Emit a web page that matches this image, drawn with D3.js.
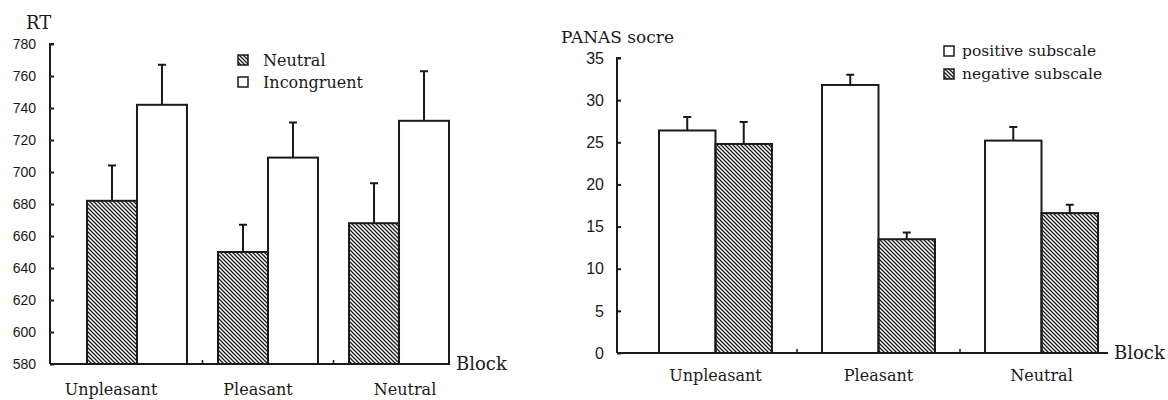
<!DOCTYPE html>
<html>
<head>
<meta charset="utf-8">
<script src="https://cdn.jsdelivr.net/npm/d3@7"></script>
<style>
  html, body { margin: 0; padding: 0; background: #fff; }
  svg { display: block; }
  .serif { font-family: "DejaVu Serif", serif; fill: #1a1a1a; }
  .tick-label { font-family: "Liberation Sans", Arial, sans-serif; fill: #1a1a1a; }
</style>
</head>
<body>
<svg id="chart" width="1168" height="400"></svg>
<script>
// Reaction time by block (ms)
const rtCategories = ["Unpleasant", "Pleasant", "Neutral"];
const rtNeutral = [682, 650, 668];
const rtNeutralErr = [22, 17, 25];
const rtIncongruent = [742, 709, 732];
const rtIncongruentErr = [25, 22, 31];
const rtTicks = [580, 600, 620, 640, 660, 680, 700, 720, 740, 760, 780];

// PANAS score by block
const panasCategories = ["Unpleasant", "Pleasant", "Neutral"];
const panasPositive = [26.4, 31.8, 25.2];
const panasPositiveErr = [1.6, 1.2, 1.6];
const panasNegative = [24.8, 13.5, 16.6];
const panasNegativeErr = [2.6, 0.8, 1.0];
const panasTicks = [0, 5, 10, 15, 20, 25, 30, 35];

const ink = "#1a1a1a";
const svg = d3.select("#chart");

// diagonal hatch fill
const defs = svg.append("defs");
defs.append("pattern")
  .attr("id", "hatch")
  .attr("patternUnits", "userSpaceOnUse")
  .attr("width", 4).attr("height", 4)
  .append("path")
  .attr("d", "M-1,-1 L5,5 M-1,3 L1,5 M3,-1 L5,1")
  .attr("stroke", ink)
  .attr("stroke-width", 1.3);

function panel(opts) {
  const g = svg.append("g");
  const y = d3.scaleLinear().domain(opts.yDomain).range(opts.yRange);
  const x = d3.scaleBand().domain(opts.categories).range(opts.groupRange)
    .paddingInner(opts.paddingInner).paddingOuter(0);
  const xs = d3.scaleBand().domain([0, 1]).range([0, x.bandwidth()]);

  // y axis (ticks pointing inward)
  const yAxis = d3.axisRight(y).tickValues(opts.ticks).tickSize(4).tickFormat("");
  const ya = g.append("g").attr("transform", `translate(${opts.axisX},0)`).call(yAxis);
  ya.select(".domain").attr("stroke", ink).attr("stroke-width", 2)
    .attr("d", `M4,${y(opts.yDomain[1])}H0V${y(opts.yDomain[0])}`);
  ya.selectAll(".tick line").attr("stroke", ink).attr("stroke-width", 2);

  g.selectAll(".ylab").data(opts.ticks).join("text")
    .attr("class", "tick-label")
    .attr("x", opts.tickLabelX)
    .attr("y", d => y(d))
    .attr("dy", "0.36em")
    .attr("text-anchor", "end")
    .attr("font-size", opts.tickFont)
    .text(d => d);

  // y title
  g.append("text").attr("class", "serif")
    .attr("x", opts.titleX).attr("y", opts.titleY)
    .attr("font-size", opts.titleFont).text(opts.title);

  // bars
  const base = y(opts.yDomain[0]);
  opts.series.forEach((s, si) => {
    g.selectAll(null).data(s.values).join("rect")
      .attr("x", (d, i) => x(opts.categories[i]) + xs(si))
      .attr("y", d => y(d))
      .attr("width", xs.bandwidth())
      .attr("height", d => base - y(d))
      .attr("fill", s.fill)
      .attr("stroke", ink)
      .attr("stroke-width", 2);
    // error bars (upper only)
    const cx = i => x(opts.categories[i]) + xs(si) + xs.bandwidth() / 2;
    g.selectAll(null).data(s.values).join("path")
      .attr("d", (d, i) => `M${cx(i)},${y(d)}V${y(d + s.err[i])}M${cx(i) - 4},${y(d + s.err[i])}H${cx(i) + 4}`)
      .attr("stroke", ink).attr("stroke-width", 2).attr("fill", "none");
  });

  // x axis baseline
  g.append("line")
    .attr("x1", opts.axisX).attr("x2", opts.axisEnd)
    .attr("y1", base).attr("y2", base)
    .attr("stroke", ink).attr("stroke-width", 2);

  // small separators between groups
  const seps = opts.categories.slice(1).map(c => x(c) - x.step() * opts.paddingInner / 2);
  g.selectAll(null).data(seps).join("line")
    .attr("x1", d => d).attr("x2", d => d)
    .attr("y1", base).attr("y2", base - 4)
    .attr("stroke", ink).attr("stroke-width", 1.5);

  g.append("text").attr("class", "serif")
    .attr("x", opts.axisEnd + 6).attr("y", base).attr("dy", "0.35em")
    .attr("font-size", 18).text("Block");

  // category labels
  const lx = opts.labelScale || (c => x(c) + x.bandwidth() / 2);
  g.selectAll(null).data(opts.categories).join("text")
    .attr("class", "serif")
    .attr("x", d => lx(d))
    .attr("y", opts.labelY)
    .attr("text-anchor", "middle")
    .attr("font-size", 16)
    .text(d => d);

  // legend
  opts.series.forEach((s, si) => {
    const ly = opts.legend.y + si * opts.legend.dy;
    g.append("rect")
      .attr("x", opts.legend.x).attr("y", ly - 5)
      .attr("width", 10).attr("height", 10)
      .attr("fill", s.fill).attr("stroke", ink).attr("stroke-width", 1.5);
    g.append("text").attr("class", "serif")
      .attr("x", opts.legend.textX).attr("y", ly).attr("dy", "0.35em")
      .attr("font-size", opts.legend.font).text(s.name);
  });
}

panel({
  categories: rtCategories,
  yDomain: [580, 780], yRange: [364, 44],
  ticks: rtTicks, tickFont: 14, tickLabelX: 36,
  axisX: 50, axisEnd: 450,
  groupRange: [87, 449], paddingInner: 0.237,
  title: "RT", titleX: 26, titleY: 29, titleFont: 18,
  labelY: 395,
  labelScale: d3.scalePoint().domain(rtCategories).range([111, 405]),
  series: [
    { name: "Neutral", values: rtNeutral, err: rtNeutralErr, fill: "url(#hatch)" },
    { name: "Incongruent", values: rtIncongruent, err: rtIncongruentErr, fill: "#fff" }
  ],
  legend: { x: 238, textX: 263, y: 60, dy: 22, font: 16 }
});

panel({
  categories: panasCategories,
  yDomain: [0, 35], yRange: [353, 58],
  ticks: panasTicks, tickFont: 16, tickLabelX: 604,
  axisX: 617, axisEnd: 1108,
  groupRange: [659, 1098], paddingInner: 0.307,
  title: "PANAS socre", titleX: 561, titleY: 43, titleFont: 17,
  labelY: 381,
  series: [
    { name: "positive subscale", values: panasPositive, err: panasPositiveErr, fill: "#fff" },
    { name: "negative subscale", values: panasNegative, err: panasNegativeErr, fill: "url(#hatch)" }
  ],
  legend: { x: 944, textX: 962, y: 51, dy: 23, font: 15.5 }
});
</script>
</body>
</html>
